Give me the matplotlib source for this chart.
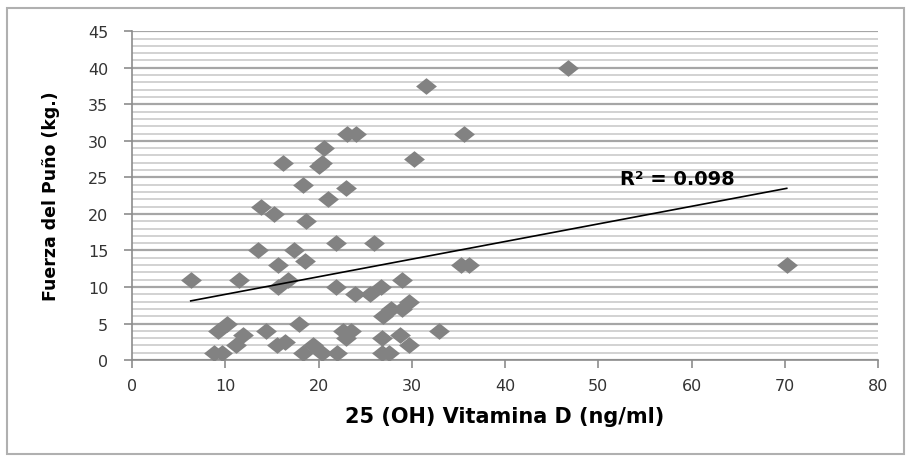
import numpy as np
import matplotlib
matplotlib.use('Agg')
import matplotlib.pyplot as plt
from matplotlib.patches import Rectangle

# 25(OH) vitamin D (ng/ml) vs grip strength (kg)
vit_d = [6.3, 8.8, 9.7, 9.2, 10.2, 11.2, 11.9, 11.5, 13.5, 13.8,
         15.2, 14.4, 15.5, 16.4, 15.7, 15.7, 16.7, 16.2, 17.4, 18.6,
         18.3, 18.7, 17.9, 18.3, 19.4, 20.4, 20.1, 20.4, 20.6, 21.0,
         21.9, 21.9, 22.0, 22.6, 23.0, 23.5, 23.0, 23.1, 24.0, 23.9,
         25.5, 26.0, 26.7, 26.8, 26.8, 27.6, 26.9, 27.8, 28.7, 28.9,
         29.0, 29.7, 29.7, 30.2, 31.5, 32.9, 35.3, 36.1, 35.6, 46.8,
         70.2]
grip = [11, 1, 1, 4, 5, 2, 3.5, 11, 15, 21,
        20, 4, 2, 2.5, 13, 10, 11, 27, 15, 13.5,
        24, 19, 5, 1, 2, 1, 26.5, 27, 29, 22,
        16, 10, 1, 4, 3, 4, 23.5, 31, 31, 9,
        9, 16, 10, 3, 1, 1, 6, 7, 3.5, 7,
        11, 8, 2, 27.5, 37.5, 4, 13, 13, 31, 40,
        13]

# linear trendline end points as drawn in the figure
trend_x = [6.3, 70.2]
trend_y = [8.1, 23.5]
r2_label = 'R² = 0.098'

x_ticks = [0, 10, 20, 30, 40, 50, 60, 70, 80]
y_ticks = [0, 5, 10, 15, 20, 25, 30, 35, 40, 45]

fig = plt.figure(figsize=(9.1, 4.6), dpi=100)
fig.patches.append(Rectangle((0.008, 0.01), 0.985, 0.97, transform=fig.transFigure,
                             fill=False, edgecolor='#b0b0b0', linewidth=1.5))
ax = fig.add_axes([0.145, 0.215, 0.82, 0.715])

# minor (every 1) and major (every 5) horizontal gridlines, Excel style
for v in np.arange(0, 46, 1):
    if v % 5 == 0:
        ax.axhline(v, color='#a6a6a6', linewidth=1.6, zorder=1)
    else:
        ax.axhline(v, color='#cfcfcf', linewidth=1.3, zorder=1)

diamond = [(-1, 0), (0, 0.8), (1, 0), (0, -0.8), (-1, 0)]
ax.plot(vit_d, grip, linestyle='none', marker=diamond, markersize=15,
        color='#828282', markeredgewidth=0, zorder=3)
ax.plot(trend_x, trend_y, color='black', linewidth=1.2, zorder=4)
ax.text(52.3, 24.8, r2_label, fontsize=14, fontweight='bold', va='center', zorder=5)

ax.set_xlim(0, 80)
ax.set_ylim(0, 45)
ax.set_xticks(x_ticks)
ax.set_yticks(y_ticks)
ax.tick_params(axis='both', colors='#8c8c8c', labelcolor='#333333', labelsize=11.5,
               direction='out', length=6, width=1.2)
ax.tick_params(axis='x', pad=7)
ax.tick_params(axis='y', pad=11)
for side in ['top', 'right']:
    ax.spines[side].set_visible(False)
for side in ['left', 'bottom']:
    ax.spines[side].set_color('#8c8c8c')
    ax.spines[side].set_linewidth(1.2)

ax.set_xlabel('25 (OH) Vitamina D (ng/ml)', fontsize=15, fontweight='bold', labelpad=9)
ax.set_ylabel('Fuerza del Puño (kg.)', fontsize=12.5, fontweight='bold', labelpad=20)

fig.savefig('out.png', dpi=100)
